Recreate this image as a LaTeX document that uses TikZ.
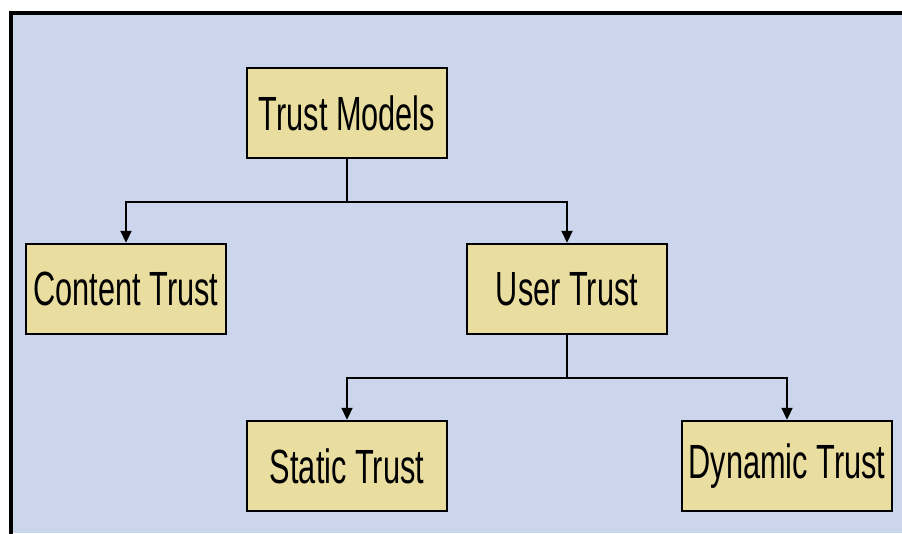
\documentclass[tikz,border=0pt]{standalone}
\usepackage{fontspec}
\setmainfont{Liberation Sans}[FakeStretch=0.64]
\usetikzlibrary{arrows.meta, positioning}
\definecolor{bgcolor}{RGB}{203,214,237}
\definecolor{boxcolor}{RGB}{233,222,160}

\begin{document}
\begin{tikzpicture}[x=1pt, y=-1pt,
    trustbox/.style={draw, line width=2.5pt, fill=boxcolor, minimum width=200pt, minimum height=90pt, inner sep=0pt, font=\fontsize{48}{52}\selectfont},
    link/.style={-{Triangle[width=11pt,length=12pt]}, line width=2.2pt}]
    % Cadre
    \useasboundingbox (0,0) rectangle (902,533);
    \fill[white] (0,0) rectangle (902,533);
    \fill[bgcolor] (11,13) rectangle (902,533);
    \draw[line width=4pt, line cap=round] (902,13) -- (11,13) -- (11,533);

    % Niveau 1
    \node[trustbox] (models) at (347,113) {Trust Models};

    % Niveau 2
    \node[trustbox] (content) at (126,289) {Content Trust};
    \node[trustbox] (user) at (567,289) {User Trust};

    % Niveau 3
    \node[trustbox] (static) at (347,466) {Static Trust};
    \node[trustbox, minimum width=210pt] (dynamic) at (787,466) {Dynamic Trust};

    % Jonctions
    \coordinate (j1) at (347,202);
    \coordinate (j2) at (567,378);

    % Flèches
    \draw[line width=1.4pt] (models.south) -- (j1);
    \draw[link] (j1) -| (content.north);
    \draw[link] (j1) -| (user.north);

    \draw[line width=1.4pt] (user.south) -- (j2);
    \draw[link] (j2) -| (static.north);
    \draw[link] (j2) -| (dynamic.north);
\end{tikzpicture}
\end{document}
